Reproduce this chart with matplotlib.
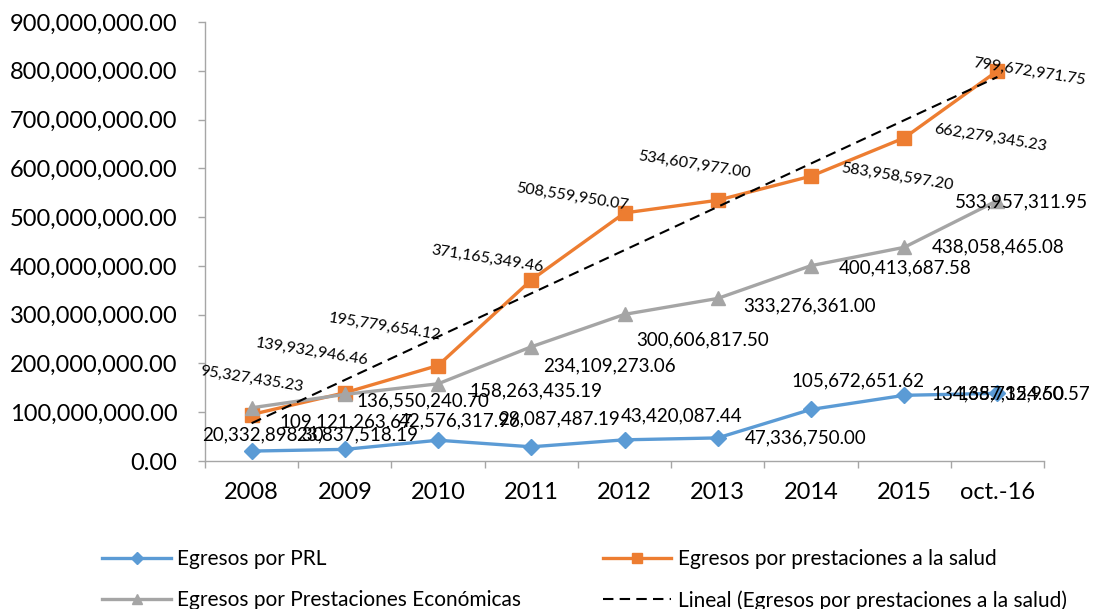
import matplotlib.pyplot as plt
import numpy as np
from matplotlib.lines import Line2D
from matplotlib.ticker import FuncFormatter

plt.rcParams["font.family"] = ["Lato", "DejaVu Sans"]

years = ["2008", "2009", "2010", "2011", "2012", "2013", "2014", "2015", "oct.-16"]
prl = [20332898.30, 23837518.19, 42576317.96, 29087487.19, 43420087.44,
       47336750.00, 105672651.62, 134657154.50, 138732960.57]
salud = [95327435.23, 139932946.46, 195779654.12, 371165349.46, 508559950.07,
         534607977.00, 583958597.20, 662279345.23, 799672971.75]
economicas = [109121263.67, 136550240.70, 158263435.19, 234109273.06, 300606817.50,
              333276361.00, 400413687.58, 438058465.08, 533957311.95]

# label offsets in pixels (dx, dy) from each point, as placed in the original
prl_off = [(11, 16), (12, 14), (22, 19), (28, 28), (57, 24), (88, 0), (47, 29), (94, 1), (26, -1)]
eco_off = [(94, -14), (78, -6), (98, -7), (78, -19), (78, -26), (92, -7), (94, -2), (94, 0), (24, -1)]
sal_off = [(0, 35), (-33, 41), (-53, 39), (-44, 21), (-52, 16), (-23, 35), (86, -1), (86, 0), (32, -1)]

BLUE = "#5B9BD5"
ORANGE = "#ED7D31"
GRAY = "#A5A5A5"
AXIS = "#A6A6A6"
DASH = (0, (5, 3))

fig = plt.figure(figsize=(10.96, 6.09), dpi=100)
ax = fig.add_axes([205 / 1096, 1 - 461 / 609, (1044 - 205) / 1096, (461 - 22) / 609])

x = np.arange(len(years))
ax.plot(x, prl, color=BLUE, lw=2.4, marker="D", ms=8, zorder=3)
ax.plot(x, salud, color=ORANGE, lw=2.4, marker="s", ms=9.5, zorder=3)
ax.plot(x, economicas, color=GRAY, lw=2.4, marker="^", ms=10, zorder=3)

# linear trend of the health series, as the spreadsheet draws it
coef = np.polyfit(x, salud, 1)
ax.plot(x, np.polyval(coef, x), color="black", lw=1.5, ls=DASH, zorder=4)


def fmt(v):
    return f"{v:,.2f}"


for xi, v, (dx, dy) in zip(x, prl, prl_off):
    ax.annotate(fmt(v), (xi, v), xytext=(dx, dy), textcoords="offset pixels",
                ha="center", va="center", fontsize=13.5, zorder=5)
for xi, v, (dx, dy) in zip(x, economicas, eco_off):
    ax.annotate(fmt(v), (xi, v), xytext=(dx, dy), textcoords="offset pixels",
                ha="center", va="center", fontsize=13.5, zorder=5)
for xi, v, (dx, dy) in zip(x, salud, sal_off):
    ax.annotate(fmt(v), (xi, v), xytext=(dx, dy), textcoords="offset pixels",
                ha="center", va="center", fontsize=11.5, rotation=-9,
                rotation_mode="anchor", zorder=5)

ax.set_xlim(-0.5, len(years) - 0.5)
ax.set_ylim(0, 900000000)
ax.set_yticks(np.arange(0, 900000001, 100000000))
ax.yaxis.set_major_formatter(FuncFormatter(lambda v, p: fmt(v)))
ax.set_xticks(x)
ax.set_xticklabels(years)
ax.set_xticks(np.arange(-0.5, len(years)), minor=True)
ax.tick_params(axis="x", which="major", length=0, pad=15, labelsize=17)
ax.tick_params(axis="x", which="minor", length=5, color=AXIS, width=1)
ax.tick_params(axis="y", length=5, color=AXIS, width=1, pad=15, labelsize=17)

for side in ["top", "right"]:
    ax.spines[side].set_visible(False)
for side in ["left", "bottom"]:
    ax.spines[side].set_color(AXIS)
    ax.spines[side].set_linewidth(1)

handles = [
    Line2D([], [], color=BLUE, lw=2.4, marker="D", ms=6),
    Line2D([], [], color=GRAY, lw=2.4, marker="^", ms=7),
    Line2D([], [], color=ORANGE, lw=2.4, marker="s", ms=7),
    Line2D([], [], color="black", lw=1.5, ls=DASH),
]
labels = [
    "Egresos por PRL",
    "Egresos por Prestaciones Económicas",
    "Egresos por prestaciones a la salud",
    "Lineal (Egresos por prestaciones a la salud)",
]
fig.legend(handles, labels, loc="center left", bbox_to_anchor=(92 / 1096, 1 - 580 / 609),
           ncol=2, frameon=False, fontsize=15, handlelength=3.3, handletextpad=0.3,
           columnspacing=3.9, labelspacing=1.0, borderpad=0)

fig.savefig("out.png", dpi=100)
